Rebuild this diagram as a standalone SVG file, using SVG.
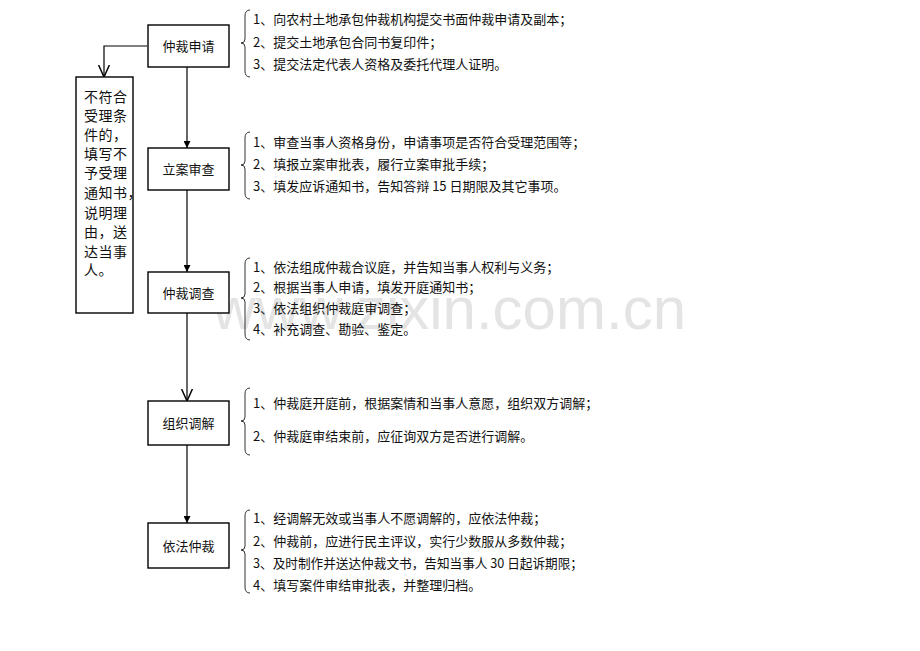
<svg xmlns="http://www.w3.org/2000/svg" width="920" height="651" viewBox="0 0 920 651">
<defs>
<style>
.box{fill:#fff;stroke:#000;stroke-width:1.4}
.bt{font-family:"Noto Sans CJK SC","Microsoft YaHei",sans-serif;font-size:13px;fill:#111;text-anchor:middle}
.t{font-family:"Noto Sans CJK SC","Microsoft YaHei",sans-serif;font-size:13px;fill:#111}
.lt{font-family:"Noto Sans CJK SC","Microsoft YaHei",sans-serif;font-size:14px;fill:#111;letter-spacing:0.5px}
.br{fill:none;stroke:#333;stroke-width:1}
.cn{fill:none;stroke:#000;stroke-width:1.2}
.wm{font-family:"Liberation Sans",Arial,sans-serif;font-size:60px;fill:#e4e4e4}
</style>
<marker id="fa" viewBox="0 0 10 10" refX="10" refY="5" markerWidth="7" markerHeight="7" markerUnits="userSpaceOnUse" orient="auto"><path d="M0,0 L10,5 L0,10 Z" fill="#000"/></marker>
<marker id="oa" viewBox="0 0 10 10" refX="10" refY="5" markerWidth="12" markerHeight="12" markerUnits="userSpaceOnUse" orient="auto"><path d="M0,0.5 L10,5 L0,9.5" fill="none" stroke="#000" stroke-width="1.2"/></marker>
</defs>
<rect width="920" height="651" fill="#fff"/>
<text class="wm" x="686" y="329" text-anchor="end">www.zixin.com.cn</text>

<g id="connectors">
<path class="cn" d="M147,46 H104 V77" marker-end="url(#oa)"/>
<path class="cn" d="M187,67 V148" marker-end="url(#fa)"/>
<path class="cn" d="M187,190 V272" marker-end="url(#fa)"/>
<path class="cn" d="M187,313 V401" marker-end="url(#oa)"/>
<path class="cn" d="M187,445 V523" marker-end="url(#fa)"/>
</g>

<g id="n1"><rect class="box" x="148" y="25" width="81" height="42"/><text class="bt" x="188.5" y="51">仲裁申请</text></g>
<g id="n2"><rect class="box" x="148" y="148" width="81" height="42"/><text class="bt" x="188.5" y="174">立案审查</text></g>
<g id="n3"><rect class="box" x="148" y="272" width="81" height="41"/><text class="bt" x="188.5" y="298">仲裁调查</text></g>
<g id="n4"><rect class="box" x="148" y="401" width="81" height="44"/><text class="bt" x="188.5" y="428">组织调解</text></g>
<g id="n5"><rect class="box" x="148" y="523" width="81" height="45"/><text class="bt" x="188.5" y="551">依法仲裁</text></g>

<g id="n0">
<rect class="box" x="76" y="77" width="57" height="236"/>
<text class="lt" x="84" y="102">不符合</text>
<text class="lt" x="84" y="121">受理条</text>
<text class="lt" x="84" y="140">件的，</text>
<text class="lt" x="84" y="159">填写不</text>
<text class="lt" x="84" y="178">予受理</text>
<text class="lt" x="84" y="198">通知书，</text>
<text class="lt" x="84" y="218">说明理</text>
<text class="lt" x="84" y="237">由，送</text>
<text class="lt" x="84" y="257">达当事</text>
<text class="lt" x="84" y="275">人。</text>
</g>

<g id="note1">
<path class="br" d="M250,10 Q245,10 245,16 L245,39 Q245,43 241,43 Q245,43 245,47 L245,71 Q245,77 250,77"/>
<text class="t" x="253" y="24">1、向农村土地承包仲裁机构提交书面仲裁申请及副本；</text>
<text class="t" x="253" y="47">2、提交土地承包合同书复印件；</text>
<text class="t" x="253" y="69">3、提交法定代表人资格及委托代理人证明。</text>
</g>

<g id="note2">
<path class="br" d="M250,132 Q245,132 245,138 L245,161 Q245,165 241,165 Q245,165 245,169 L245,193 Q245,199 250,199"/>
<text class="t" x="253" y="147">1、审查当事人资格身份，申请事项是否符合受理范围等；</text>
<text class="t" x="253" y="169">2、填报立案审批表，履行立案审批手续；</text>
<text class="t" x="253" y="191">3、填发应诉通知书，告知答辩 15 日期限及其它事项。</text>
</g>

<g id="note3">
<path class="br" d="M250,258 Q245,258 245,264 L245,294 Q245,298 241,298 Q245,298 245,302 L245,334 Q245,340 250,340"/>
<text class="t" x="253" y="272">1、依法组成仲裁合议庭，并告知当事人权利与义务；</text>
<text class="t" x="253" y="292">2、根据当事人申请，填发开庭通知书；</text>
<text class="t" x="253" y="313">3、依法组织仲裁庭审调查；</text>
<text class="t" x="253" y="334">4、补充调查、勘验、鉴定。</text>
</g>

<g id="note4">
<path class="br" d="M250,388 Q245,388 245,394 L245,417 Q245,421 241,421 Q245,421 245,425 L245,449 Q245,455 250,455"/>
<text class="t" x="253" y="408">1、仲裁庭开庭前，根据案情和当事人意愿，组织双方调解；</text>
<text class="t" x="253" y="441">2、仲裁庭审结束前，应征询双方是否进行调解。</text>
</g>

<g id="note5">
<path class="br" d="M250,510 Q245,510 245,516 L245,546 Q245,550 241,550 Q245,550 245,554 L245,587 Q245,593 250,593"/>
<text class="t" x="253" y="523">1、经调解无效或当事人不愿调解的，应依法仲裁；</text>
<text class="t" x="253" y="546">2、仲裁前，应进行民主评议，实行少数服从多数仲裁；</text>
<text class="t" x="253" y="568" textLength="330" lengthAdjust="spacingAndGlyphs">3、及时制作并送达仲裁文书，告知当事人 30 日起诉期限；</text>
<text class="t" x="253" y="590">4、填写案件审结审批表，并整理归档。</text>
</g>
</svg>
